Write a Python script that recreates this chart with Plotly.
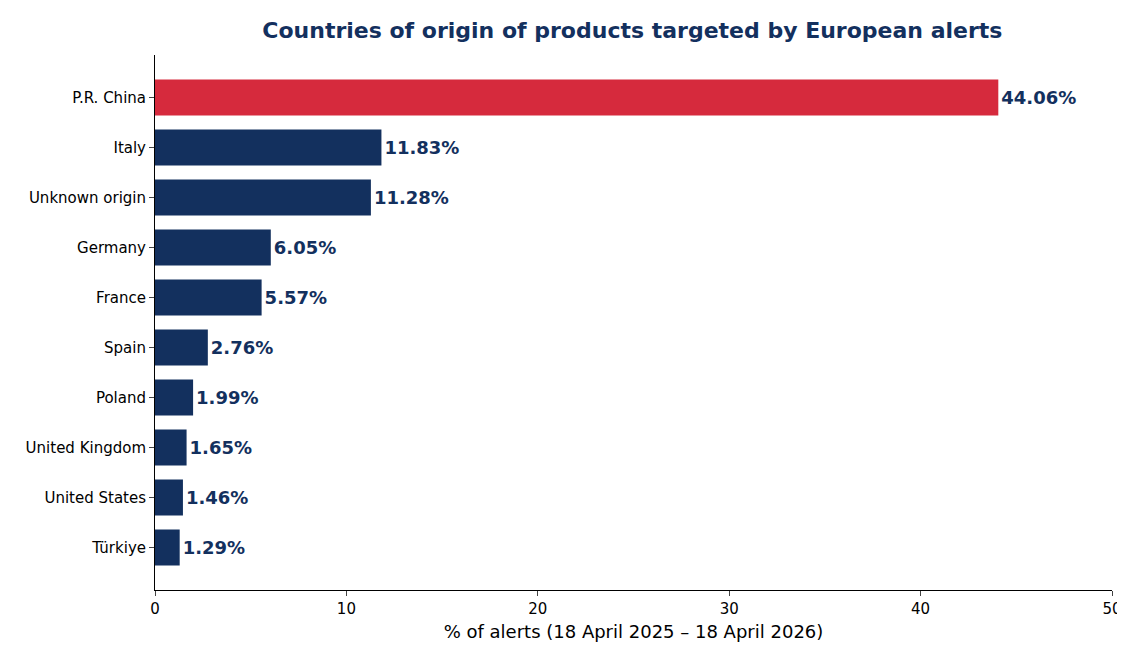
import plotly.graph_objects as go

countries = ["P.R. China", "Italy", "Unknown origin", "Germany", "France", "Spain",
             "Poland", "United Kingdom", "United States", "Türkiye"]
shares = [44.06, 11.83, 11.28, 6.05, 5.57, 2.76, 1.99, 1.65, 1.46, 1.29]

NAVY = "#13305e"
RED = "#d62a3d"
colors = [RED] + [NAVY] * (len(countries) - 1)

fig = go.Figure(go.Bar(
    x=shares, y=countries, orientation="h", width=0.72,
    marker=dict(color=colors, line=dict(width=0)),
    text=[f"<b>{v:.2f}%</b>" for v in shares], textposition="outside",
    textfont=dict(size=18, color=NAVY, family="DejaVu Sans"),
    cliponaxis=False,
))

fig.update_layout(
    width=1125, height=645,
    margin=dict(l=147, r=21, t=47, b=63),
    plot_bgcolor="white", paper_bgcolor="white",
    font=dict(family="DejaVu Sans", size=15, color="black"),
    title=dict(text="<b>Countries of origin of products targeted by European alerts</b>",
               x=0.555, xanchor="center", y=0.965, yanchor="middle",
               font=dict(size=22, color=NAVY)),
    showlegend=False,
)
fig.update_xaxes(range=[0, 50], tickvals=[0, 10, 20, 30, 40, 50], showgrid=False,
                 showline=True, linecolor="black", ticks="outside", ticklen=5,
                 tickfont=dict(size=15), zeroline=False,
                 title=dict(text="% of alerts (18 April 2025 – 18 April 2026)",
                            font=dict(size=18), standoff=8))
fig.update_yaxes(autorange="reversed", range=None, showgrid=False, showline=True,
                 linecolor="black", ticks="outside", ticklen=5, tickfont=dict(size=15))
fig.update_yaxes(autorange=False, range=[9.85, -0.85])

fig.write_html("out.html")
